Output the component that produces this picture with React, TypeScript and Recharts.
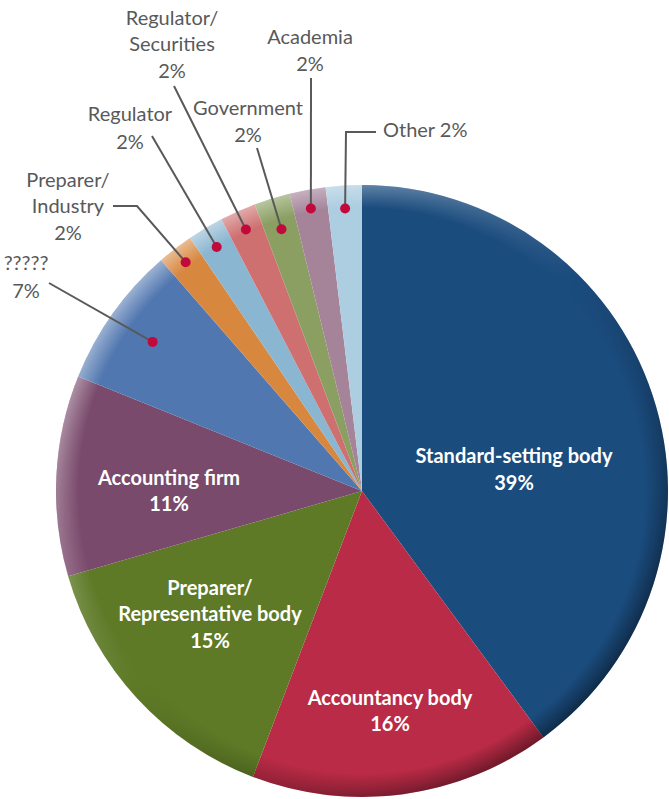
import React from 'react';
import { PieChart, Pie, Cell } from 'recharts';

// ---- data ----
const categories = [
  'Standard-setting body',
  'Accountancy body',
  'Preparer/Representative body',
  'Accounting firm',
  '?????',
  'Preparer/Industry',
  'Regulator',
  'Regulator/Securities',
  'Government',
  'Academia',
  'Other',
];
const shares = [39.9, 15.9, 14.7, 10.6, 7.5, 1.9, 1.9, 1.9, 1.9, 1.9, 1.9];
const pctLabels = ['39%', '16%', '15%', '11%', '7%', '2%', '2%', '2%', '2%', '2%', '2%'];
const colors = [
  '#1B4C7E', '#B92B46', '#5E7A27', '#7A4A6C', '#5077B0', '#D8873F',
  '#8AB6D1', '#CE7070', '#8B9F63', '#A5849A', '#ADCDE1',
];

// ---- layout (label placement, relative to pie centre) ----
const W = 669;
const H = 799;
const CX = 362;
const CY = 491;
const R = 306;
const FONT = 'Lato, "Open Sans", sans-serif';
const GREY = '#595959';
const DOT = '#C2093B';

type InsideLayout = { kind: 'in'; text: [number, number]; lh: number };
type OutsideLayout = {
  kind: 'out';
  dotR: number;
  path: [number, number][];
  text: [number, number];
  lh: number;
  anchor: 'middle' | 'start';
  oneLine?: boolean;
};
const labelLayout: (InsideLayout | OutsideLayout)[] = [
  { kind: 'in', text: [152, -23], lh: 27 },
  { kind: 'in', text: [28, 219], lh: 26 },
  { kind: 'in', text: [-152, 122], lh: 26.5 },
  { kind: 'in', text: [-193, -1], lh: 26.5 },
  { kind: 'out', dotR: 0.84, path: [[-313, -208]], text: [-336, -215], lh: 28, anchor: 'middle' },
  { kind: 'out', dotR: 0.944, path: [[-225, -285], [-249, -285]], text: [-294, -286], lh: 26.5, anchor: 'middle' },
  { kind: 'out', dotR: 0.928, path: [[-210, -355]], text: [-232, -364], lh: 28, anchor: 'middle' },
  { kind: 'out', dotR: 0.935, path: [[-188, -405]], text: [-190, -448], lh: 26.5, anchor: 'middle' },
  { kind: 'out', dotR: 0.895, path: [[-105, -343]], text: [-114, -371], lh: 27, anchor: 'middle' },
  { kind: 'out', dotR: 0.938, path: [[-51, -413]], text: [-52, -442], lh: 27, anchor: 'middle' },
  { kind: 'out', dotR: 0.925, path: [[-16, -359], [14, -359]], text: [21, -362], lh: 27, anchor: 'start', oneLine: true },
];

const data = categories.map((name, i) => ({ name, value: shares[i] }));

function linesFor(i: number, oneLine?: boolean): string[] {
  const name = categories[i];
  if (oneLine) return [`${name} ${pctLabels[i]}`];
  const parts = name.includes('/') ? name.replace('/', '/\n').split('\n') : [name];
  return [...parts, pctLabels[i]];
}

const RAD = Math.PI / 180;

const renderLabel = (props: any) => {
  const { cx, cy, midAngle, outerRadius, index } = props;
  const lay = labelLayout[index];
  const lines = linesFor(index, (lay as OutsideLayout).oneLine);
  if (lay.kind === 'in') {
    const x = cx + lay.text[0];
    const yc = cy + lay.text[1];
    const y0 = yc - ((lines.length - 1) * lay.lh) / 2;
    return (
      <g key={`lab-${index}`}>
        {lines.map((t, k) => (
          <text
            key={k}
            x={x}
            y={y0 + k * lay.lh}
            textAnchor="middle"
            dominantBaseline="central"
            fill="#FFFFFF"
            fontFamily={FONT}
            fontWeight={700}
            fontSize={20}
          >
            {t}
          </text>
        ))}
      </g>
    );
  }
  const r = outerRadius * lay.dotR;
  const dx = cx + r * Math.cos(-midAngle * RAD);
  const dy = cy + r * Math.sin(-midAngle * RAD);
  const pts = [[dx, dy], ...lay.path.map(([px, py]) => [cx + px, cy + py])];
  const x = cx + lay.text[0];
  const yc = cy + lay.text[1];
  const y0 = yc - ((lines.length - 1) * lay.lh) / 2;
  return (
    <g key={`lab-${index}`}>
      <polyline
        points={pts.map((p) => p.join(',')).join(' ')}
        fill="none"
        stroke={GREY}
        strokeWidth={2}
      />
      <circle cx={dx} cy={dy} r={5} fill={DOT} />
      {lines.map((t, k) => (
        <text
          key={k}
          x={x}
          y={y0 + k * lay.lh}
          textAnchor={lay.anchor}
          dominantBaseline="central"
          fill={GREY}
          fontFamily={FONT}
          fontSize={20}
        >
          {t}
        </text>
      ))}
    </g>
  );
};

export default function App() {
  return (
    <div style={{ position: 'absolute', left: 0, top: 0, width: W, height: H, background: '#fff' }}>
      <PieChart width={W} height={H} margin={{ top: 0, right: 0, bottom: 0, left: 0 }}>
        <defs>
          <linearGradient id="rimDir" x1="0.1" y1="0.1" x2="0.85" y2="0.9">
            <stop offset="0" stopColor="#FFFFFF" stopOpacity={0.5} />
            <stop offset="0.5" stopColor="#FFFFFF" stopOpacity={0} />
            <stop offset="0.5" stopColor="#000000" stopOpacity={0} />
            <stop offset="1" stopColor="#000000" stopOpacity={0.45} />
          </linearGradient>
          <radialGradient id="rimMaskGrad" gradientUnits="userSpaceOnUse" cx={CX} cy={CY} r={R}>
            <stop offset="0.925" stopColor="#000000" />
            <stop offset="1" stopColor="#FFFFFF" />
          </radialGradient>
          <mask id="rimMask" maskUnits="userSpaceOnUse" x={0} y={0} width={W} height={H}>
            <rect x={0} y={0} width={W} height={H} fill="url(#rimMaskGrad)" />
          </mask>
        </defs>
        <Pie
          data={data}
          dataKey="value"
          nameKey="name"
          cx={CX}
          cy={CY}
          outerRadius={R}
          startAngle={90}
          endAngle={-270}
          stroke="none"
          isAnimationActive={false}
          labelLine={false}
          label={false}
        >
          {data.map((d, i) => (
            <Cell key={d.name} fill={colors[i]} stroke="none" />
          ))}
        </Pie>
        <Pie
          data={[{ name: 'rim', value: 1 }]}
          dataKey="value"
          cx={CX}
          cy={CY}
          innerRadius={R - 28}
          outerRadius={R}
          startAngle={90}
          endAngle={-270}
          stroke="none"
          isAnimationActive={false}
          labelLine={false}
          label={false}
        >
          <Cell fill="url(#rimDir)" stroke="none" mask="url(#rimMask)" />
        </Pie>
        <Pie
          data={data}
          dataKey="value"
          nameKey="name"
          cx={CX}
          cy={CY}
          outerRadius={R}
          startAngle={90}
          endAngle={-270}
          fill="none"
          stroke="none"
          isAnimationActive={false}
          labelLine={false}
          label={renderLabel}
        >
          {data.map((d) => (
            <Cell key={d.name} fill="none" stroke="none" />
          ))}
        </Pie>
      </PieChart>
    </div>
  );
}
